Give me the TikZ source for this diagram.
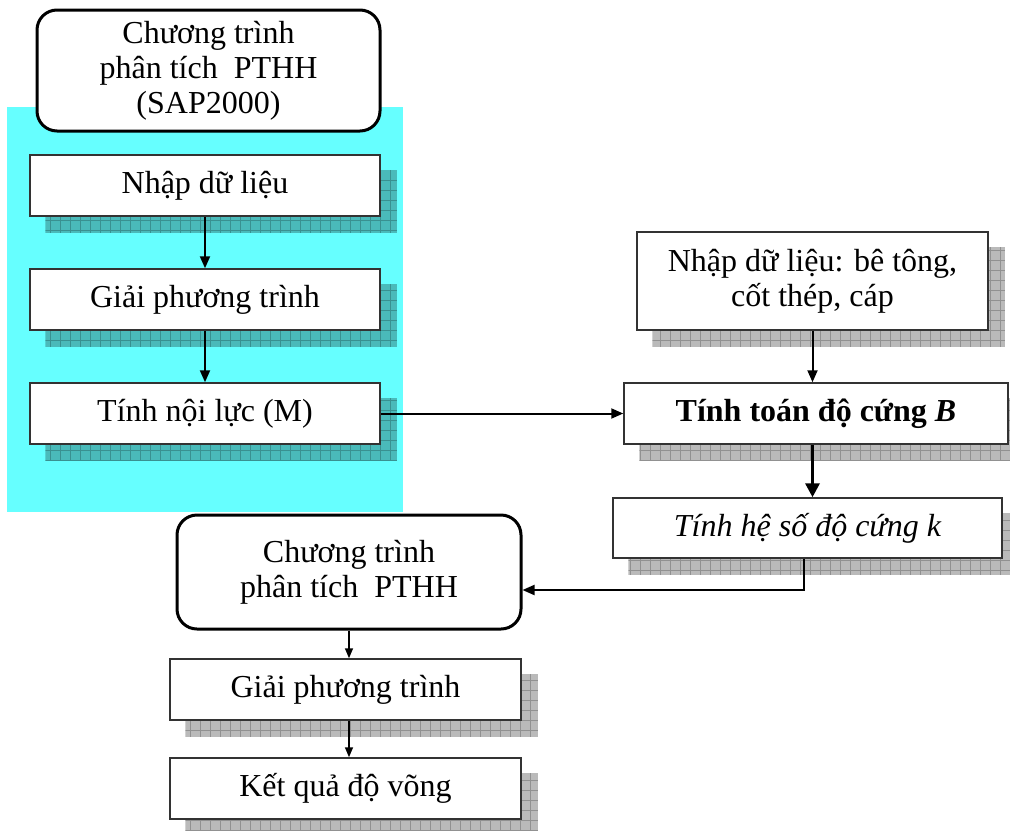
\documentclass[tikz,border=0pt]{standalone}
\usepackage{fontspec}
\setmainfont{Liberation Serif}
\usepackage{tikz}
\usetikzlibrary{arrows.meta, calc}
\definecolor{nencyan}{HTML}{66FFFF}
\pgfdeclarelayer{back}
\pgfdeclarelayer{bg}
\pgfsetlayers{back,bg,main}

% bong do dang luoi cua mot o
\newcommand{\bongo}[1]{%
  \begin{scope}
    \clip ([shift={(16,16)}]#1.south west) rectangle ([shift={(16,16)}]#1.north east);
    \fill[black,opacity=0.27] ([shift={(16,16)}]#1.south west) rectangle ([shift={(16,16)}]#1.north east);
    \draw[black,opacity=0.22,line width=0.5pt,step=5pt] ([shift={(16,16)}]#1.south west) grid ([shift={(16,16)}]#1.north east);
  \end{scope}}

\tikzset{
  oso/.style={draw=black!80,line width=0.75pt,fill=white,inner sep=0pt,
    minimum height=30.5pt,align=center,font=\fontsize{16}{17.5}\selectfont},
  chuongtrinh/.style={draw,line width=1.5pt,rounded corners=10pt,fill=white,inner sep=0pt,
    align=center,font=\fontsize{16}{17.5}\selectfont},
  muiten/.style={-{Triangle[length=6pt,width=5pt]},line width=1pt},
  muitennho/.style={-{Triangle[length=5pt,width=4pt]},line width=0.8pt}
}

\begin{document}
\begin{tikzpicture}[x=0.5pt,y=-0.5pt]
    \useasboundingbox (0,0) rectangle (1010,830);
    % Nen cyan
    \begin{pgfonlayer}{back}
      \fill[nencyan] (7,107) rectangle (403,512);
    \end{pgfonlayer}
    % Khoi SAP2000
    \node[chuongtrinh,minimum width=171.5pt,minimum height=60.5pt] (ct1) at (208.5,70.5)
      {Chương trình\\phân tích~ PTHH\\(SAP2000)};
    \node[oso,minimum width=175pt] (nhap) at (205,185.5) {Nhập dữ liệu};
    \node[oso,minimum width=175pt] (giai) at (205,299.5) {Giải phương trình};
    \node[oso,minimum width=175pt] (noiluc) at (205,413.5) {Tính nội lực (M)};
    % Khoi do cung
    \node[oso,minimum width=175.5pt,minimum height=49pt] (vatlieu) at (812.5,281)
      {Nhập dữ liệu: bê tông,\\cốt thép, cáp};
    \node[oso,minimum width=192pt] (docung) at (816,413.5)
      {\bfseries Tính toán độ cứng \textit{B}};
    \node[oso,minimum width=194.5pt,minimum height=30pt] (heso) at (807.5,528)
      {\itshape Tính hệ số độ cứng k};
    % Khoi ket qua
    \node[chuongtrinh,minimum width=172pt,minimum height=57pt] (ct2) at (349,572)
      {Chương trình\\phân tích~ PTHH};
    \node[oso,minimum width=175.5pt] (giai2) at (345.5,689.5) {Giải phương trình};
    \node[oso,minimum width=175.5pt] (ketqua) at (345.5,788.5) {Kết quả độ võng};
    % Bong
    \begin{pgfonlayer}{bg}
      \foreach \o in {nhap,giai,noiluc,vatlieu,docung,heso,giai2,ketqua}
        {\bongo{\o}}
    \end{pgfonlayer}
    % Mui ten
    \draw[muiten] (nhap) -- (giai);
    \draw[muiten] (giai) -- (noiluc);
    \draw[muiten] (noiluc) -- (docung);
    \draw[muiten] (vatlieu.south) -- (vatlieu.south |- docung.north);
    \draw[-{Triangle[length=7pt,width=7pt]},line width=1.6pt]
      (vatlieu.south |- docung.south) -- (vatlieu.south |- heso.north);
    \draw[muiten] ([xshift=-2pt]heso.south) |- ([yshift=-9pt]ct2.east);
    \draw[muitennho] (ct2.south) -- (ct2.south |- giai2.north);
    \draw[muitennho] (giai2.south -| ct2.south) -- (ketqua.north -| ct2.south);
\end{tikzpicture}
\end{document}
